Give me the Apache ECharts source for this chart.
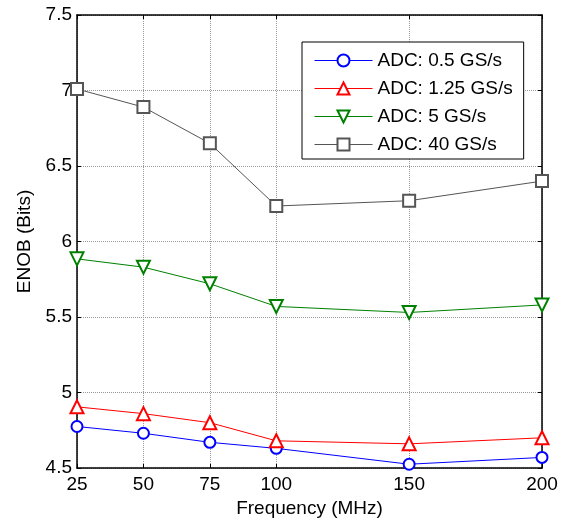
<!DOCTYPE html>
<html><head><meta charset="utf-8">
<script src="https://cdn.jsdelivr.net/npm/echarts@6/dist/echarts.min.js"></script>
<style>html,body{margin:0;padding:0;background:#fff}#c{width:574px;height:523px}</style>
</head><body><div id="c"></div>
<script>
const frequencies = [25, 50, 75, 100, 150, 200];
const xTicks = [25, 50, 75, 100, 150, 200];
const seriesNames = ['ADC: 0.5 GS/s', 'ADC: 1.25 GS/s', 'ADC: 5 GS/s', 'ADC: 40 GS/s'];
const enob05 = [4.775, 4.73, 4.67, 4.63, 4.525, 4.57];
const enob125 = [4.905, 4.86, 4.80, 4.68, 4.66, 4.70];
const enob5 = [5.885, 5.83, 5.72, 5.57, 5.53, 5.58];
const enob40 = [7.01, 6.89, 6.65, 6.235, 6.27, 6.40];

const FONT = "'Liberation Sans', Arial, sans-serif";
const chart = echarts.init(document.getElementById('c'), null, {renderer: 'canvas'});

function pairs(vals) { return frequencies.map((f, i) => [f, vals[i]]); }

const axisLineStyle = {color: '#000', width: 1.5};
const gridStyle = {color: '#999999', width: 1, type: [1, 1]};

const option = {
  backgroundColor: '#fff',
  animation: false,
  textStyle: {fontFamily: FONT},
  grid: {left: 77, right: 32, top: 15, bottom: 54},
  legend: {
    orient: 'vertical',
    left: 302, top: 42,
    data: seriesNames,
    borderColor: '#000', borderWidth: 1,
    padding: [9, 11, 5, 12],
    itemGap: 9, itemWidth: 58, itemHeight: 15,
    itemStyle: {borderWidth: 1},
    lineStyle: {width: 1},
    textStyle: {fontSize: 19, color: '#000', fontFamily: FONT},
    backgroundColor: '#fff'
  },
  xAxis: [{
    type: 'value', min: 25, max: 200, interval: 25,
    name: 'Frequency (MHz)', nameLocation: 'middle', nameGap: 31,
    nameTextStyle: {fontSize: 19, color: '#000', fontFamily: FONT},
    axisLine: {show: true, lineStyle: axisLineStyle},
    axisTick: {show: true, inside: true, length: 4, customValues: xTicks, lineStyle: {color: '#000'}},
    axisLabel: {fontSize: 19, color: '#000', margin: 7, customValues: xTicks, fontFamily: FONT},
    splitLine: {show: true, lineStyle: gridStyle}
  }, {
    type: 'value', min: 25, max: 200, interval: 25, position: 'top',
    axisLine: {show: true, lineStyle: axisLineStyle},
    axisTick: {show: true, inside: true, length: 4, customValues: xTicks, lineStyle: {color: '#000'}},
    axisLabel: {show: false},
    splitLine: {show: false}
  }],
  yAxis: [{
    type: 'value', min: 4.5, max: 7.5, interval: 0.5,
    name: 'ENOB (Bits)', nameLocation: 'middle', nameGap: 43,
    nameTextStyle: {fontSize: 19, color: '#000', fontFamily: FONT},
    axisLine: {show: true, lineStyle: axisLineStyle},
    axisTick: {show: true, inside: true, length: 4, lineStyle: {color: '#000'}},
    axisLabel: {fontSize: 19, color: '#000', margin: 5, fontFamily: FONT},
    splitLine: {show: true, lineStyle: gridStyle}
  }, {
    type: 'value', min: 4.5, max: 7.5, interval: 0.5, position: 'right',
    axisLine: {show: true, lineStyle: axisLineStyle},
    axisTick: {show: true, inside: true, length: 4, lineStyle: {color: '#000'}},
    axisLabel: {show: false},
    splitLine: {show: false}
  }],
  series: [
    {name: seriesNames[0], type: 'line', data: pairs(enob05), symbol: 'emptyCircle', symbolSize: 11,
     color: '#0000ff', lineStyle: {width: 1, color: '#0000ff'}, itemStyle: {color: '#0000ff', borderWidth: 1}},
    {name: seriesNames[1], type: 'line', data: pairs(enob125), symbol: 'emptyTriangle', symbolSize: 13,
     color: '#ff0000', lineStyle: {width: 1, color: '#ff0000'}, itemStyle: {color: '#ff0000', borderWidth: 1}},
    {name: seriesNames[2], type: 'line', data: pairs(enob5), symbol: 'emptyTriangle', symbolRotate: 180, symbolSize: 13,
     color: '#008000', lineStyle: {width: 1, color: '#008000'}, itemStyle: {color: '#008000', borderWidth: 1}},
    {name: seriesNames[3], type: 'line', data: pairs(enob40), symbol: 'emptyRect', symbolSize: 12,
     color: '#555555', lineStyle: {width: 1, color: '#555555'}, itemStyle: {color: '#555555', borderWidth: 1}}
  ]
};
chart.setOption(option);
</script></body></html>
